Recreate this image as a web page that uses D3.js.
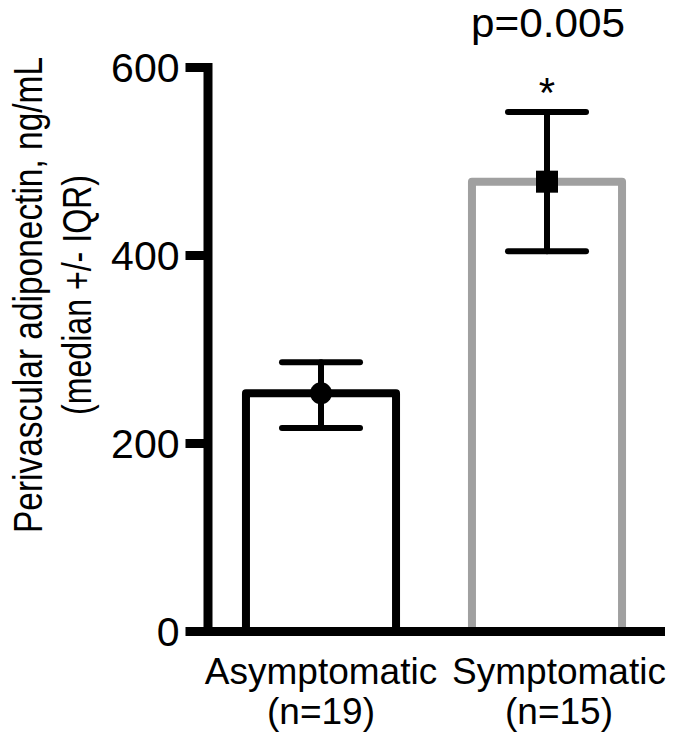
<!DOCTYPE html>
<html>
<head>
<meta charset="utf-8">
<script src="https://cdn.jsdelivr.net/npm/d3@7.9.0/dist/d3.min.js"></script>
<style>
  body { margin: 0; background: #fff; }
  svg { display: block; font-family: Arial, "Liberation Sans", sans-serif; }
</style>
</head>
<body>
<svg width="675" height="740"></svg>
<script>
// data
const groups = ['Asymptomatic', 'Symptomatic'];
const groupN = ['(n=19)', '(n=15)'];
const medians = [253, 478];
const q1 = [216, 404];
const q3 = [286, 552];
const barColors = ['#000000', '#a0a0a0'];
const markers = ['circle', 'square'];
const yTicks = [0, 200, 400, 600];

const svg = d3.select('svg');

const y = d3.scaleLinear().domain([0, 600]).range([631, 67]);
const x = d3.scaleBand().domain(groups).range([208, 660])
  .paddingInner(0.336).paddingOuter(0.168);

/* bars */
svg.selectAll('rect.bar')
  .data(groups)
  .join('rect')
  .attr('class', 'bar')
  .attr('x', d => x(d))
  .attr('y', (d, i) => y(medians[i]))
  .attr('width', x.bandwidth())
  .attr('height', (d, i) => y(0) - y(medians[i]))
  .attr('fill', '#fff')
  .attr('stroke', (d, i) => barColors[i])
  .attr('stroke-width', 8)
  .attr('stroke-linejoin', 'round');

/* axes */
const yAxis = svg.append('g')
  .attr('transform', 'translate(207.5,0)')
  .call(d3.axisLeft(y).tickValues(yTicks).tickSize(22).tickSizeOuter(0).tickPadding(6));
yAxis.select('.domain').attr('stroke-width', 9).attr('stroke-linecap', 'square');
yAxis.selectAll('.tick line').attr('stroke-width', 9);
yAxis.selectAll('.tick text')
  .attr('font-size', 41)
  .attr('fill', '#000')
  .attr('dy', '0.36em');

const xAxis = svg.append('g')
  .attr('transform', `translate(0,${y(0)})`)
  .call(d3.axisBottom(x).tickSize(0).tickSizeOuter(0).tickFormat(''));
xAxis.select('.domain').attr('stroke-width', 9).attr('stroke-linecap', 'square');

/* category labels */
const labelShift = [0, 12];
const labels = svg.append('g').attr('font-size', 37).attr('text-anchor', 'middle');
groups.forEach((g, i) => {
  const cx = x(g) + x.bandwidth() / 2 + labelShift[i];
  labels.append('text').attr('x', cx).attr('y', 684).text(g);
  labels.append('text').attr('x', cx).attr('y', 724).text(groupN[i]);
});

/* error bars + median markers */
const capW = 78;
groups.forEach((g, i) => {
  const cx = x(g) + x.bandwidth() / 2;
  const eb = svg.append('g').attr('stroke', '#000').attr('stroke-width', 6).attr('stroke-linecap', 'round');
  eb.append('line').attr('x1', cx).attr('x2', cx).attr('y1', y(q1[i])).attr('y2', y(q3[i]));
  eb.append('line').attr('x1', cx - capW / 2).attr('x2', cx + capW / 2).attr('y1', y(q1[i])).attr('y2', y(q1[i]));
  eb.append('line').attr('x1', cx - capW / 2).attr('x2', cx + capW / 2).attr('y1', y(q3[i])).attr('y2', y(q3[i]));
  if (markers[i] === 'circle') {
    svg.append('circle').attr('cx', cx).attr('cy', y(medians[i])).attr('r', 11).attr('fill', '#000');
  } else {
    svg.append('rect').attr('x', cx - 11).attr('y', y(medians[i]) - 11)
      .attr('width', 22).attr('height', 22).attr('fill', '#000');
  }
});

/* significance */
const sigX = x('Symptomatic') + x.bandwidth() / 2;
svg.append('text').attr('x', sigX).attr('y', 107).attr('text-anchor', 'middle')
  .attr('font-size', 42).text('*');
svg.append('text').attr('x', sigX + 1).attr('y', 37).attr('text-anchor', 'middle')
  .attr('font-size', 40).attr('textLength', 154).attr('lengthAdjust', 'spacingAndGlyphs')
  .text('p=0.005');

/* y label */
const yl = svg.append('g').attr('transform', 'translate(0,295) rotate(-90)')
  .attr('font-size', 40).attr('text-anchor', 'middle');
yl.append('text').attr('x', 0).attr('y', 42)
  .attr('textLength', 476).attr('lengthAdjust', 'spacingAndGlyphs')
  .text('Perivascular adiponectin, ng/mL');
yl.append('text').attr('x', 0).attr('y', 91)
  .attr('textLength', 240).attr('lengthAdjust', 'spacingAndGlyphs')
  .text('(median +/- IQR)');
</script>
</body>
</html>
